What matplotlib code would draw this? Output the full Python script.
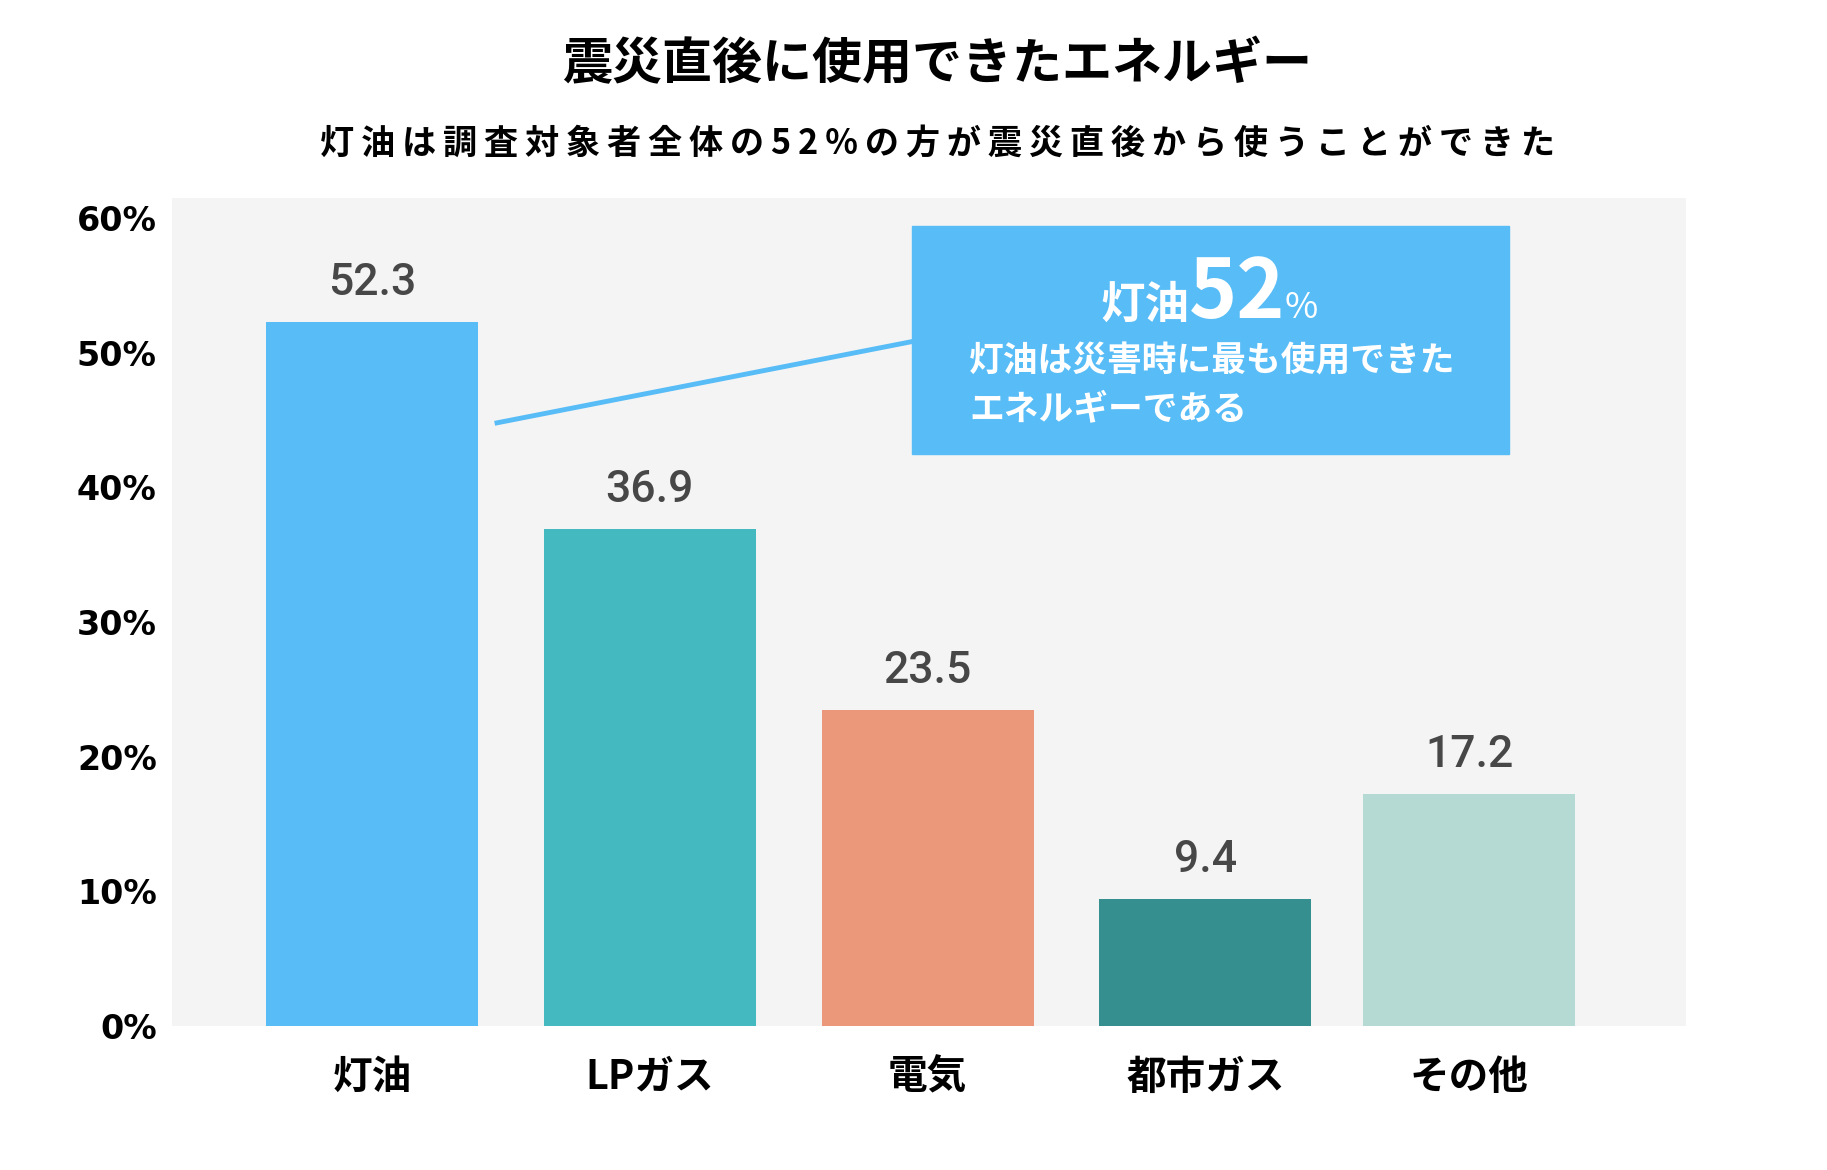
import matplotlib as mpl
import matplotlib.pyplot as plt
from matplotlib.patches import Rectangle
import numpy as np

mpl.rcParams['font.family'] = ['Noto Sans CJK JP', 'DejaVu Sans']

categories = ['灯油', 'LPガス', '電気', '都市ガス', 'その他']
values = [52.3, 36.9, 23.5, 9.4, 17.2]
yticks = [0, 10, 20, 30, 40, 50, 60]

title = '震災直後に使用できたエネルギー'
subtitle = '灯油は調査対象者全体の52%の方が震災直後から使うことができた'
callout_big = '52'
callout_lines = ['灯油は災害時に最も使用できた', 'エネルギーである']

# ----------------------------------------------------------------------

colors = ['#58bcf7', '#44b9c0', '#eb9779', '#358f8f', '#b4dad3']
x = np.array([0, 1, 2, 3, 3.95])
W, H = 1827, 1170

def fx(px):
    return px / W

def fy(py):
    return 1 - py / H

fig = plt.figure(figsize=(W / 100, H / 100), dpi=100)
ax = fig.add_axes([fx(172), fy(1026), fx(1686) - fx(172), fy(198) - fy(1026)])
ax.set_facecolor('#f4f4f4')

bars = ax.bar(x, values, width=0.763, color=colors, zorder=2)
for xi, v in zip(x, values):
    ax.annotate(f'{v}', (xi, v), xytext=(0, 13), textcoords='offset points',
                ha='center', va='bottom', fontsize=32, color='#474747',
                family='Roboto', fontweight='medium')

ax.set_xlim(-0.72, 4.73)
ax.set_ylim(0, 61.5)
ax.set_yticks(yticks, [f'{t}%' for t in yticks])
ax.set_xticks(x, categories)
ax.tick_params(axis='y', length=0, pad=11, labelsize=24)
ax.tick_params(axis='x', length=0, pad=22, labelsize=28.5)
for lab in ax.get_yticklabels():
    lab.set_family('DejaVu Sans')
    lab.set_fontweight('bold')
for lab in ax.get_xticklabels():
    lab.set_fontweight('bold')
for s in ax.spines.values():
    s.set_visible(False)

# callout line and box
ax.plot([0.45, 1.96], [44.8, 50.9], color='#58bcf7', lw=3.5, clip_on=False, zorder=3)
fig.patches.append(Rectangle((fx(912), fy(454)), (1509 - 912) / W, (454 - 226) / H,
                             transform=fig.transFigure, color='#58bcf7', zorder=3))
fig.text(fx(1237), fy(318), callout_big, ha='center', va='baseline', fontsize=59,
         fontweight='bold', color='white', zorder=4)
fig.text(fx(1189), fy(318), categories[0], ha='right', va='baseline', fontsize=32,
         fontweight='bold', color='white', zorder=4)
fig.text(fx(1285), fy(318), '%', ha='left', va='baseline', fontsize=26,
         color='white', zorder=4)
fig.text(fx(969), fy(361), callout_lines[0], ha='left', va='center', fontsize=25,
         fontweight='bold', color='white', zorder=4)
fig.text(fx(969), fy(409), callout_lines[1], ha='left', va='center', fontsize=25,
         fontweight='bold', color='white', zorder=4)

fig.text(fx(937), fy(65), title, ha='center', va='center', fontsize=36, fontweight='bold')
fig.text(fx(938), fy(143), '\u2009'.join(subtitle), ha='center', va='center',
         fontsize=24.6, fontweight='bold')

plt.savefig('out.png', dpi=100)
